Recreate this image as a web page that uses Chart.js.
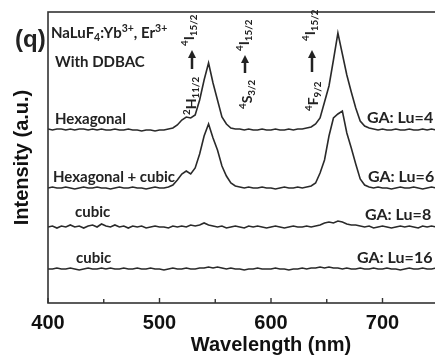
<!DOCTYPE html>
<html>
<head>
<meta charset="utf-8">
<script src="https://cdn.jsdelivr.net/npm/chart.js@4"></script>
<style>
html, body { margin: 0; padding: 0; background: #fff; overflow: hidden; }
#wrap { position: absolute; left: 0; top: 0; width: 520px; height: 357px; }
</style>
</head>
<body>
<div id="wrap"><canvas id="spec"></canvas></div>
<script>
// wavelength grid (nm)
const wavelength = [
  400,404,408,412,416,420,424,428,432,436,
  440,444,448,452,456,460,464,468,472,476,
  480,484,488,492,496,500,504,508,512,516,
  520,524,528,532,536,540,544,548,552,556,
  560,564,568,572,576,580,584,588,592,596,
  600,604,608,612,616,620,624,628,632,636,
  640,644,648,652,656,660,664,668,672,676,
  680,684,688,692,696,700,704,708,712,716,
  720,724,728,732,736,740,744,748,752,756,
  760,764,768,772,776,780,784,788,792,796,
  800
];

// intensities above each trace's own baseline (a.u.)
const hexagonal = [
  1,0,1,1,0,1,0,1,1,0,
  1,0,1,0,0,1,0,0,1,0,
  0,-1,0,0,-1,0,0,1,2,5,
  10,13,12,15,30,50,67,47,30,13,
  6,2,1,1,0,1,0,0,1,0,
  0,1,0,0,1,0,1,1,2,3,
  6,12,28,44,70,97,76,55,38,22,
  9,4,2,1,0,1,0,0,1,0,
  0,1,0,0,1,0,1,0,0,1,
  0,1,0,1,0,0,1,0,1,0,
  0
];
const hexCubic = [
  0,1,0,0,1,0,-1,0,1,0,
  0,1,0,0,-1,0,1,0,0,1,
  0,0,-1,0,1,0,0,1,3,8,
  14,17,14,20,34,52,64,50,38,22,
  12,5,2,1,0,1,0,0,1,0,
  0,-1,0,1,0,0,1,0,1,2,
  5,15,28,52,70,74,77,55,40,24,
  9,3,1,0,1,0,0,-1,0,1,
  0,0,1,0,-1,0,1,0,0,1,
  0,1,0,0,1,0,0,1,0,0,
  0
];
const cubic8 = [
  0,1,-1,1,0,2,0,1,-1,1,
  2,0,3,1,0,2,0,1,-1,1,
  0,1,-1,0,1,0,0,-1,1,0,
  1,0,2,1,2,4,2,1,0,1,
  -1,0,1,0,-1,1,0,1,0,-1,
  0,1,0,-1,0,1,0,0,1,0,
  1,2,4,5,4,6,5,3,2,2,
  1,0,1,-1,0,1,0,-1,0,1,
  0,1,0,-1,1,0,1,0,1,0,
  -1,0,1,0,1,0,-1,0,1,0,
  0
];
const cubic16 = [
  0,0,1,0,0,1,0,-1,0,1,
  0,0,1,0,1,0,0,1,0,0,
  1,0,0,1,0,0,-1,0,1,0,
  0,1,0,0,1,1,2,1,2,1,
  0,1,0,0,-1,0,0,1,0,0,
  0,1,0,0,-1,0,0,1,0,1,
  1,2,1,2,1,1,0,1,0,0,
  1,0,0,1,0,0,1,0,0,-1,
  0,1,0,0,1,0,0,1,0,0,
  1,0,0,-1,0,1,0,0,1,0,
  0
];

// vertical stacking of the traces
const offsets = [173, 115, 76, 34];
const seriesNames = ['Hexagonal', 'Hexagonal + cubic', 'cubic', 'cubic'];
const gaLabels = ['GA: Lu=4', 'GA: Lu=6', 'GA: Lu=8', 'GA: Lu=16'];
const xTicks = [400, 500, 600, 700, 800];
const minorTicks = [450, 550, 650, 750];

const spectra = [hexagonal, hexCubic, cubic8, cubic16];
const INK = '#222';
const LBL = 'Lato, "Open Sans", sans-serif';

function rich(ctx, segs, x, y, size, rotated) {
  ctx.save();
  ctx.translate(x, y);
  if (rotated) ctx.rotate(-Math.PI / 2);
  ctx.textBaseline = 'alphabetic';
  ctx.textAlign = 'left';
  let cx = 0;
  segs.forEach(([t, kind]) => {
    let s = size, dy = 0;
    if (kind === 'sup') { s = size * 0.7; dy = -size * 0.42; }
    if (kind === 'sub') { s = size * 0.7; dy = size * 0.22; }
    ctx.font = 'bold ' + s + 'px ' + LBL;
    ctx.fillText(t, cx, dy);
    cx += ctx.measureText(t).width;
  });
  ctx.restore();
}

function arrowUp(ctx, x, tip, tail) {
  ctx.save();
  ctx.strokeStyle = INK;
  ctx.fillStyle = INK;
  ctx.lineWidth = 2.5;
  ctx.beginPath();
  ctx.moveTo(x, tail);
  ctx.lineTo(x, tip + 6);
  ctx.stroke();
  ctx.beginPath();
  ctx.moveTo(x, tip);
  ctx.lineTo(x - 4, tip + 8);
  ctx.lineTo(x + 4, tip + 8);
  ctx.closePath();
  ctx.fill();
  ctx.restore();
}

const decor = {
  id: 'decor',
  afterDraw(chart) {
    const {ctx, chartArea: a, scales: {x, y}} = chart;
    ctx.save();
    // frame
    ctx.strokeStyle = '#333';
    ctx.lineWidth = 1.6;
    ctx.strokeRect(a.left, a.top, a.right - a.left, a.bottom - a.top);
    // inward ticks
    ctx.lineWidth = 1.4;
    ctx.beginPath();
    xTicks.forEach(v => { const px = x.getPixelForValue(v); ctx.moveTo(px, a.bottom); ctx.lineTo(px, a.bottom - 5); });
    minorTicks.forEach(v => { const px = x.getPixelForValue(v); ctx.moveTo(px, a.bottom); ctx.lineTo(px, a.bottom - 4); });
    ctx.stroke();

    ctx.fillStyle = INK;
    // panel letter
    ctx.font = 'bold 24px "Liberation Sans", Arial, sans-serif';
    ctx.textBaseline = 'alphabetic';
    ctx.fillText('(q)', 15, 47);
    // compound
    rich(ctx, [['NaLuF', ''], ['4', 'sub'], [':Yb', ''], ['3+', 'sup'], [', Er', ''], ['3+', 'sup']], 51, 38, 15, false);
    ctx.font = 'bold 15px ' + LBL;
    ctx.fillText('With DDBAC', 55, 67);

    // series names (left) and GA ratios (right)
    const leftX = [55, 53, 75, 76];
    const leftDy = [6, 6, 10, 6];
    const rightX = [367, 368, 365, 357];
    const rightDy = [7, 6, 7, 6];
    seriesNames.forEach((n, k) => {
      const py = y.getPixelForValue(offsets[k]);
      ctx.font = 'bold 15px ' + LBL;
      ctx.fillText(n, leftX[k], py - leftDy[k]);
      ctx.font = 'bold 16px ' + LBL;
      ctx.fillText(gaLabels[k], rightX[k], py - rightDy[k]);
    });

    // transitions
    const I152 = [['4', 'sup'], ['I', ''], ['15/2', 'sub']];
    rich(ctx, I152, 194, 46, 14, true);
    arrowUp(ctx, 192, 50, 69);
    rich(ctx, [['2', 'sup'], ['H', ''], ['11/2', 'sub']], 196, 115, 14, true);

    rich(ctx, I152, 249, 51, 14, true);
    arrowUp(ctx, 245, 55, 73);
    rich(ctx, [['4', 'sup'], ['S', ''], ['3/2', 'sub']], 252, 109, 14, true);

    rich(ctx, I152, 315, 41, 14, true);
    arrowUp(ctx, 312, 50, 72);
    rich(ctx, [['4', 'sup'], ['F', ''], ['9/2', 'sub']], 318, 111, 14, true);
    ctx.restore();
  }
};

const axisFont = {family: '"Liberation Sans", Arial, sans-serif', size: 20, weight: 'bold'};

new Chart(document.getElementById('spec'), {
  type: 'line',
  data: {
    datasets: spectra.map((s, k) => ({
      label: seriesNames[k],
      data: wavelength.map((w, i) => ({x: w, y: s[i] + offsets[k]})),
      borderColor: '#2a2a2a',
      borderWidth: 1.6,
      pointRadius: 0,
      fill: false,
      tension: 0
    }))
  },
  options: {
    animation: false,
    responsive: true,
    maintainAspectRatio: false,
    layout: {padding: {top: 12, right: 26, left: 0, bottom: 0}},
    plugins: {legend: {display: false}, tooltip: {enabled: false}},
    scales: {
      x: {
        type: 'linear', min: 400, max: 800,
        afterBuildTicks: sc => { sc.ticks = xTicks.map(v => ({value: v})); },
        grid: {display: false, drawTicks: false},
        border: {display: false},
        ticks: {font: axisFont, color: '#111', padding: 8, maxRotation: 0},
        title: {display: true, text: 'Wavelength (nm)', font: axisFont, color: '#111', padding: 0},
        afterFit: sc => { sc.height = 54; }
      },
      y: {
        min: 0, max: 291,
        grid: {display: false, drawTicks: false},
        border: {display: false},
        ticks: {display: false},
        title: {display: true, text: 'Intensity (a.u.)', font: axisFont, color: '#111', padding: {top: 10, bottom: 0}},
        afterFit: sc => { sc.width = 48; }
      }
    }
  },
  plugins: [decor]
});
</script>
</body>
</html>
